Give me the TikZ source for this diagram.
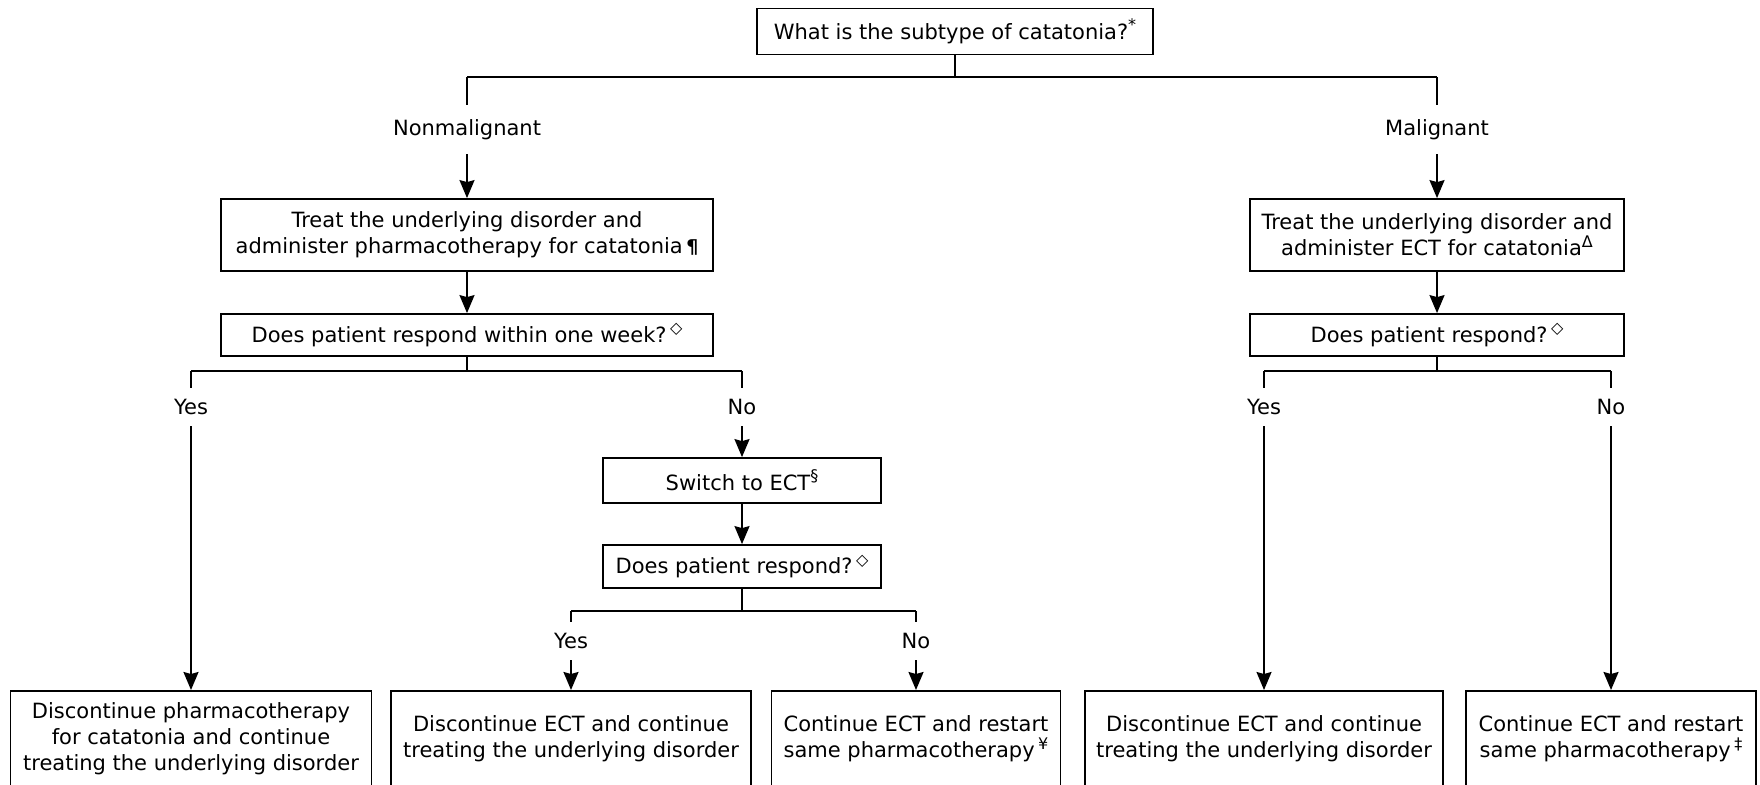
\documentclass[tikz,border=0pt]{standalone}
\usepackage{fontspec}
\setmainfont{DejaVu Sans}
\usetikzlibrary{arrows.meta}
\newcommand{\supx}[1]{\raisebox{0.75ex}{\fontsize{16}{16}\selectfont #1}}
\begin{document}
\begin{tikzpicture}[x=1pt,y=-1pt,
  box/.style={draw, line width=1.8pt, inner sep=0pt, align=center, font=\fontsize{21}{26}\selectfont},
  lbl/.style={inner sep=0pt, minimum height=38pt, font=\fontsize{21}{26}\selectfont},
  ln/.style={line width=1.8pt},
  arr/.style={line width=1.8pt, -{Stealth[length=18pt,width=15pt,inset=2pt]}}]
\clip (0,0) rectangle (1760,784);
\fill[white] (0,0) rectangle (1760,784);
% top
\node[box, minimum width=396pt, minimum height=46pt] (top) at (955,31.5) {What is the subtype of catatonia?\supx{*}};
\coordinate (jt) at (955,77);
\node[lbl, minimum height=49pt] (nm) at (467,129.5) {Nonmalignant};
\node[lbl, minimum height=49pt] (mal) at (1437,129.5) {Malignant};
% left branch
\node[box, minimum width=492pt, minimum height=72pt] (l1) at (467,235) {Treat the underlying disorder and\\administer pharmacotherapy for catatonia\,{\fontsize{19}{19}\selectfont\bfseries ¶}};
\node[box, minimum width=492pt, minimum height=42pt] (l2) at (467,335) {Does patient respond within one week?\,\supx{◇}};
\coordinate (j3) at (467,371);
\node[lbl] (ly) at (191,407) {Yes};
\node[lbl] (lno) at (742,407) {No};
\node[box, minimum width=278pt, minimum height=45pt] (sw) at (742,480.5) {Switch to ECT\supx{§}};
\node[box, minimum width=278pt, minimum height=43pt] (d2) at (742,566.5) {Does patient respond?\,\supx{◇}};
\coordinate (j4) at (742,611);
\node[lbl] (my) at (571,641) {Yes};
\node[lbl] (mno) at (916,641) {No};
% right branch
\node[box, minimum width=374pt, minimum height=72pt] (r1) at (1437,235) {Treat the underlying disorder and\\administer ECT for catatonia\supx{Δ}};
\node[box, minimum width=374pt, minimum height=42pt] (r2) at (1437,335) {Does patient respond?\,\supx{◇}};
\coordinate (j5) at (1437,371);
\node[lbl] (ry) at (1264,407) {Yes};
\node[lbl] (rno) at (1611,407) {No};
% bottom boxes
\node[box, anchor=north, minimum width=361pt, minimum height=96pt] (b1) at (191,690) {Discontinue pharmacotherapy\\for catatonia and continue\\treating the underlying disorder};
\node[box, anchor=north, minimum width=360pt, minimum height=96pt] (b2) at (571,690) {Discontinue ECT and continue\\treating the underlying disorder};
\node[box, anchor=north, minimum width=289pt, minimum height=96pt] (b3) at (916,690) {Continue ECT and restart\\same pharmacotherapy\,\supx{¥}};
\node[box, anchor=north, minimum width=358pt, minimum height=96pt] (b4) at (1264,690) {Discontinue ECT and continue\\treating the underlying disorder};
\node[box, anchor=north, minimum width=290pt, minimum height=96pt] (b5) at (1611,690) {Continue ECT and restart\\same pharmacotherapy\,\supx{‡}};
% connectors
\draw[ln] (top.south) -- (jt);
\draw[ln] (nm.north |- jt) -- (mal.north |- jt);
\draw[ln] (nm.north |- jt) -- (nm.north);
\draw[ln] (mal.north |- jt) -- (mal.north);
\draw[arr] (nm.south) -- (l1.north);
\draw[arr] (mal.south) -- (r1.north);
\draw[arr] (l1.south) -- (l2.north);
\draw[arr] (r1.south) -- (r2.north);
\draw[ln] (l2.south) -- (j3);
\draw[ln] (ly.north |- j3) -- (lno.north |- j3);
\draw[ln] (ly.north |- j3) -- (ly.north);
\draw[ln] (lno.north |- j3) -- (lno.north);
\draw[arr] (ly.south) -- (b1.north);
\draw[arr] (lno.south) -- (sw.north);
\draw[arr] (sw.south) -- (d2.north);
\draw[ln] (d2.south) -- (j4);
\draw[ln] (my.north |- j4) -- (mno.north |- j4);
\draw[ln] (my.north |- j4) -- (my.north);
\draw[ln] (mno.north |- j4) -- (mno.north);
\draw[arr] (my.south) -- (b2.north);
\draw[arr] (mno.south) -- (b3.north);
\draw[ln] (r2.south) -- (j5);
\draw[ln] (ry.north |- j5) -- (rno.north |- j5);
\draw[ln] (ry.north |- j5) -- (ry.north);
\draw[ln] (rno.north |- j5) -- (rno.north);
\draw[arr] (ry.south) -- (b4.north);
\draw[arr] (rno.south) -- (b5.north);
\end{tikzpicture}
\end{document}
